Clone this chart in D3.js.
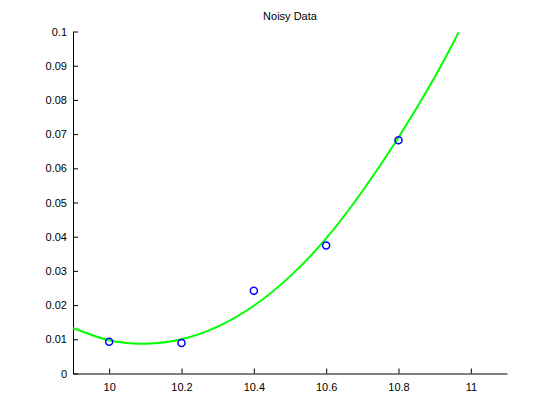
<!DOCTYPE html>
<html>
<head>
<meta charset="utf-8">
<script src="https://cdn.jsdelivr.net/npm/d3@7"></script>
<style>
  body { margin: 0; background: #fff; }
  text { font-family: "Liberation Sans", Arial, sans-serif; font-size: 11px; fill: #000; }
</style>
</head>
<body>
<svg id="chart"></svg>
<script>
const width = 560;
const height = 420;

// noisy samples (blue circles)
const sampleX = [10, 10.2, 10.4, 10.6, 10.8];
const sampleY = [0.0093, 0.0089, 0.0242, 0.0374, 0.0682];

// fitted curve (green line)
const fitX = [9.9, 10.0, 10.1, 10.2, 10.3, 10.4, 10.5, 10.6, 10.7, 10.8, 10.9, 10.966];
const fitY = [0.0133, 0.0097, 0.0087, 0.0100, 0.0137, 0.0198, 0.0284, 0.0395, 0.0533, 0.0690, 0.0866, 0.0997];

const xTicks = [10, 10.2, 10.4, 10.6, 10.8, 11];
const yTicks = [0, 0.01, 0.02, 0.03, 0.04, 0.05, 0.06, 0.07, 0.08, 0.09, 0.1];

const margin = {left: 73, right: 53, top: 31.5, bottom: 46.5};

var svg = d3.select("#chart")
    .attr("width", width)
    .attr("height", height);

var x = d3.scaleLinear()
    .domain([9.9, 11.1])
    .range([margin.left, width - margin.right]);

var y = d3.scaleLinear()
    .domain([0, 0.1])
    .range([height - margin.bottom, margin.top]);

// axes, ticks pointing inward like matlab
svg.append("g")
    .attr("transform", `translate(0,${height - margin.bottom})`)
    .call(d3.axisBottom(x).tickValues(xTicks).tickSizeInner(-5).tickSizeOuter(0).tickPadding(10).tickFormat(d3.format("")));

svg.append("g")
    .attr("transform", `translate(${margin.left},0)`)
    .call(d3.axisLeft(y).tickValues(yTicks).tickSizeInner(-5).tickSizeOuter(0).tickPadding(6).tickFormat(d3.format("")));

svg.selectAll(".domain, .tick line").attr("stroke", "#000");
svg.selectAll(".tick text").attr("font-size", null).attr("font-family", null);

// fitted line
var line = d3.line()
    .x((d, i) => x(fitX[i]))
    .y((d, i) => y(fitY[i]))
    .curve(d3.curveNatural);

svg.append("path")
    .datum(fitX)
    .attr("d", line)
    .attr("fill", "none")
    .attr("stroke", "#00ff00")
    .attr("stroke-width", 2);

// samples
svg.append("g")
    .selectAll("circle")
    .data(sampleX)
    .enter().append("circle")
    .attr("cx", d => x(d))
    .attr("cy", (d, i) => y(sampleY[i]))
    .attr("r", 3.5)
    .attr("fill", "none")
    .attr("stroke", "#0000ff")
    .attr("stroke-width", 1.5);

svg.append("text")
    .attr("x", (margin.left + width - margin.right) / 2)
    .attr("y", 20)
    .attr("text-anchor", "middle")
    .text("Noisy Data");
</script>
</body>
</html>
